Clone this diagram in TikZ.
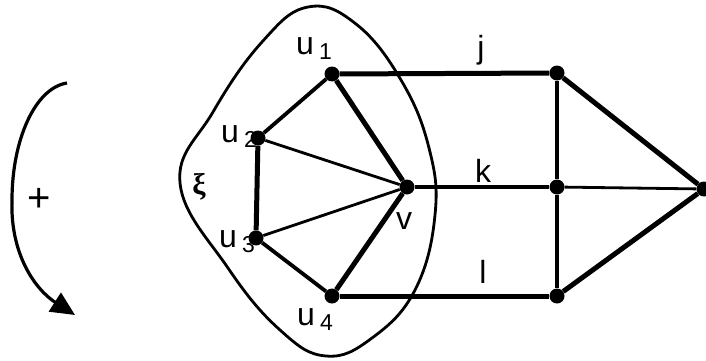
\documentclass[tikz,border=0pt]{standalone}
\usepackage{amsmath}
\usepackage{fontspec}
\setmainfont{Liberation Sans}
\newfontfamily\greekfont{Liberation Serif}
\usepackage{tikz}
\usetikzlibrary{arrows.meta}

\newcommand{\usub}[1]{u\,\raisebox{-0.3ex}{\fontsize{23}{23}\selectfont #1}}

\begin{document}
\begin{tikzpicture}[
    x=1pt, y=-1pt,
    vertex/.style={circle, fill=black, inner sep=0pt, minimum size=15pt},
    lbl/.style={font=\fontsize{32}{32}\selectfont, inner sep=0pt},
    boldedge/.style={line width=5pt},
    plainedge/.style={line width=3.8pt},
    lightedge/.style={line width=2.8pt},
    region/.style={line width=2.8pt, smooth cycle, tension=0.7}
]
\useasboundingbox (0,0) rectangle (706,361);

% the region xi around v
\draw[region] plot coordinates {(180,183) (213,112) (262,42) (308,7) (356,24)
    (401,80) (429,148) (435,215) (415,290) (372,338) (326,356) (280,330) (228,268)};

% vertices
\node[vertex] (u1) at (332,74) {};
\node[vertex] (u2) at (258,138) {};
\node[vertex] (u3) at (256,238) {};
\node[vertex] (u4) at (332,296) {};
\node[vertex] (v) at (407,187) {};
\node[vertex] (tj) at (557,73) {};
\node[vertex] (tk) at (557,187) {};
\node[vertex] (tl) at (557,296) {};
\node[vertex] (apex) at (704,189) {};

% edges
\draw[plainedge] (u1) -- (u2);
\draw[boldedge] (u2) -- (u3);
\draw[plainedge] (u3) -- (u4);
\draw[boldedge] (u1) -- (v);
\draw[lightedge] (u2) -- (v);
\draw[lightedge] (u3) -- (v);
\draw[boldedge] (u4) -- (v);
\draw[boldedge] (u1) -- (tj);
\draw[plainedge] (v) -- (tk);
\draw[boldedge] (u4) -- (tl);
\draw[plainedge] (tj) -- (tk);
\draw[plainedge] (tk) -- (tl);
\draw[boldedge] (tj) -- (apex);
\draw[lightedge] (tk) -- (apex);
\draw[boldedge] (tl) -- (apex);

% labels
\node[lbl] (lu1) at (314,49) {\usub{1}};
\node[lbl] (lu2) at (239,137) {\usub{2}};
\node[lbl] (lu3) at (237,242) {\usub{3}};
\node[lbl] (lu4) at (315,320) {\usub{4}};
\node[lbl] (lv) at (404,221) {v};
\node[lbl] (lj) at (481,50) {j};
\node[lbl] (lk) at (483,171) {k};
\node[lbl] (ll) at (483,272) {l};
\node[lbl, font=\fontsize{30}{30}\selectfont\greekfont\bfseries] (lxi) at (199,187) {ξ};

% orientation arrow
\coordinate (rotstart) at (67,83);
\coordinate (rotmid) at (12,200);
\coordinate (rotend) at (75,315);
\draw[line width=3.2pt, -{Triangle[length=24pt, width=22pt]}] (rotstart)
    .. controls (35,88) and (12,140) .. (rotmid)
    .. controls (10,255) and (36,290) .. (rotend);
\node[lbl, font=\fontsize{40}{40}\selectfont] (plus) at (39,200) {+};

\end{tikzpicture}
\end{document}
